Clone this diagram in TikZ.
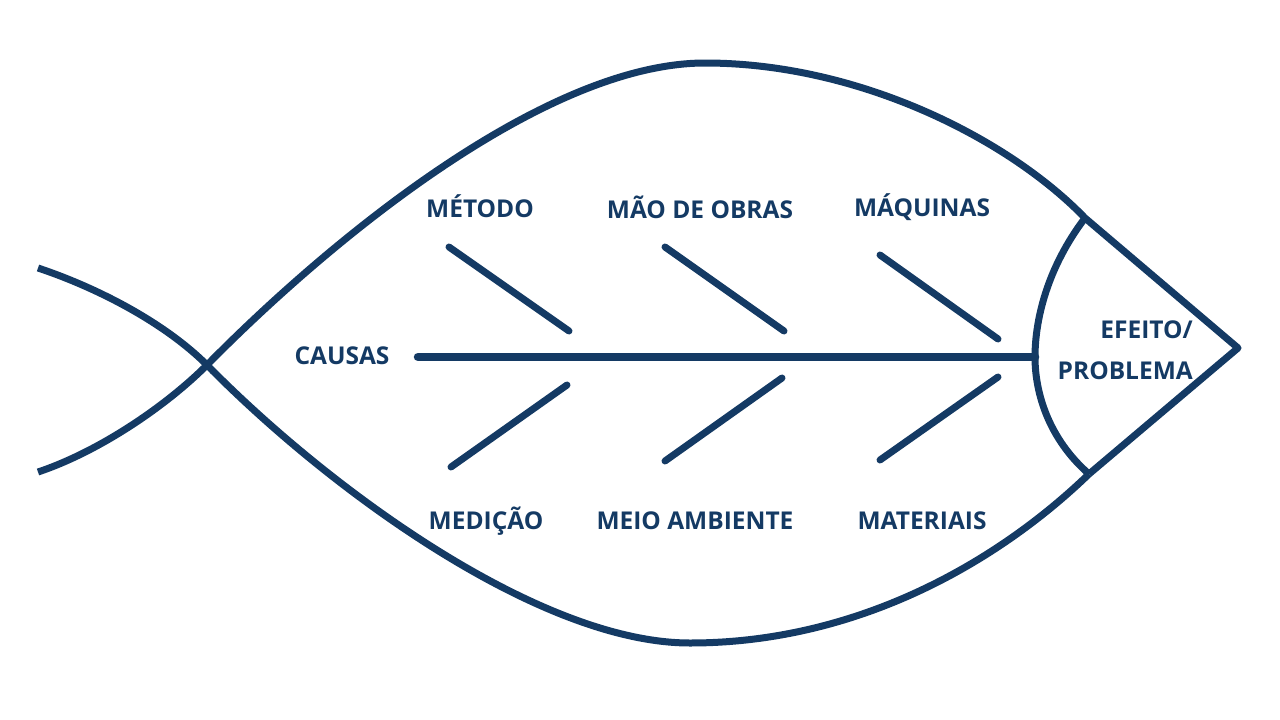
\documentclass[tikz,border=0pt]{standalone}
\usepackage{fontspec}
\newfontfamily\labfont{Open Sans}
\definecolor{fishblue}{RGB}{20,58,100}
\tikzset{
  outline/.style={draw=fishblue,line width=7pt,line join=round},
  bone/.style={draw=fishblue,line width=7pt,line cap=round},
  spine/.style={draw=fishblue,line width=8.5pt,line cap=round},
  lab/.style={text=fishblue,font=\labfont\bfseries\fontsize{24.5}{26}\selectfont,inner sep=0pt,anchor=base}
}
\begin{document}
\begin{tikzpicture}[x=1pt,y=-1pt]
\useasboundingbox (0,0) rectangle (1280,720);
% key points
\coordinate (tailU) at (38,268);
\coordinate (tailL) at (38,472);
\coordinate (cross) at (207,365);
\coordinate (top) at (705,63);
\coordinate (bot) at (690,643);
\coordinate (h1) at (1085,218);
\coordinate (h2) at (1089,474);
\coordinate (nose) at (1238,348);
\coordinate (gill) at (1035,357);
\coordinate (sp0) at (418,357);
% lower tail -> upper body -> head top
\draw[outline] (tailL) .. controls (98,452) and (165,407) .. (cross)
  .. controls (330,240) and (545,63) .. (top)
  .. controls (860,63) and (1010,140) .. (h1)
  -- (nose) -- (h2);
% upper tail -> lower body -> head bottom
\draw[outline] (tailU) .. controls (98,288) and (165,323) .. (cross)
  .. controls (330,490) and (540,643) .. (bot)
  .. controls (860,643) and (1000,560) .. (h2);
% gill arc
\draw[outline] (h1) .. controls (1047,268) and (1035,320) .. (gill)
  .. controls (1035,395) and (1050,440) .. (h2);
% spine
\draw[spine] (sp0) -- (gill);
% bones
\coordinate (u1a) at (449,247); \coordinate (u1b) at (569,331);
\coordinate (u2a) at (665,247); \coordinate (u2b) at (784,331);
\coordinate (u3a) at (880,255); \coordinate (u3b) at (998,339);
\coordinate (l1a) at (567,385); \coordinate (l1b) at (451,467);
\coordinate (l2a) at (782,378); \coordinate (l2b) at (665,461);
\coordinate (l3a) at (998,377); \coordinate (l3b) at (880,460);
\draw[bone] (u1a) -- (u1b);
\draw[bone] (u2a) -- (u2b);
\draw[bone] (u3a) -- (u3b);
\draw[bone] (l1a) -- (l1b);
\draw[bone] (l2a) -- (l2b);
\draw[bone] (l3a) -- (l3b);
% labels
\node[lab] (metodo) at (480,217) {MÉTODO};
\node[lab] (mao) at (700,218) {MÃO DE OBRAS};
\node[lab] (maq) at (922,216) {MÁQUINAS};
\node[lab] (causas) at (342,364) {CAUSAS};
\node[lab] (medicao) at (486,529) {MEDIÇÃO};
\node[lab] (meio) at (695,529) {MEIO AMBIENTE};
\node[lab] (mat) at (922,529) {MATERIAIS};
\node[lab,anchor=base east] (efeito) at (1193,338) {EFEITO/};
\node[lab,anchor=base east] (prob) at (1193,379) {PROBLEMA};
\end{tikzpicture}
\end{document}
